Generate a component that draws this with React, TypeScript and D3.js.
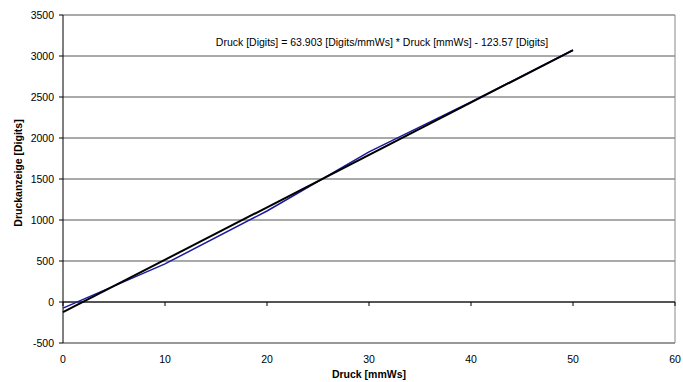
import React from "react";
import * as d3 from "d3";

// Messwerte
const druckMmWs = [0, 10, 20, 30, 40, 50];
const anzeigeDigits = [-75, 465, 1110, 1830, 2440, 3070];

// Ausgleichsgerade
const slope = 63.903;
const intercept = -123.57;
const fitX = [0, 50];

const xTicks = [0, 10, 20, 30, 40, 50, 60];
const yTicks = [-500, 0, 500, 1000, 1500, 2000, 2500, 3000, 3500];

const equationText = "Druck [Digits] = 63.903 [Digits/mmWs] * Druck [mmWs] - 123.57 [Digits]";

const W = 683, H = 382;
const left = 63, right = 675, top = 15, bottom = 343;
const font = "'Liberation Sans', Arial, sans-serif";

export default function App() {
  const x = d3.scaleLinear().domain([0, 60]).range([left, right]);
  const y = d3.scaleLinear().domain([-500, 3500]).range([bottom, top]);

  const line = d3.line<[number, number]>().x(d => x(d[0])).y(d => y(d[1]));
  const measured: [number, number][] = druckMmWs.map((v, i) => [v, anzeigeDigits[i]]);
  const fit: [number, number][] = fitX.map(v => [v, slope * v + intercept]);

  return (
    <svg width={W} height={H} style={{ position: "absolute", left: 0, top: 0 }} fontFamily={font}>
      <rect width={W} height={H} fill="#fff" />
      {/* grid */}
      {yTicks.map(t => (
        <line key={t} x1={left} x2={right} y1={y(t)} y2={y(t)} stroke="#555" strokeWidth={1} />
      ))}
      {/* border right/bottom */}
      <line x1={right} x2={right} y1={top} y2={bottom} stroke="#888" />
      <line x1={left} x2={right} y1={bottom} y2={bottom} stroke="#888" />
      {/* y axis */}
      <line x1={left} x2={left} y1={top} y2={bottom} stroke="#000" />
      {yTicks.map(t => (
        <g key={t}>
          <line x1={left - 4} x2={left} y1={y(t)} y2={y(t)} stroke="#000" />
          <text x={left - 9} y={y(t)} dy="0.35em" textAnchor="end" fontSize={10.5} fill="#000">{t}</text>
        </g>
      ))}
      {/* x axis at zero */}
      <line x1={left} x2={right} y1={y(0)} y2={y(0)} stroke="#000" />
      {xTicks.map(t => (
        <g key={t}>
          <line x1={x(t)} x2={x(t)} y1={y(0)} y2={y(0) + 4} stroke="#000" />
          <text x={x(t)} y={359} dy="0.35em" textAnchor="middle" fontSize={10.5} fill="#000">{t}</text>
        </g>
      ))}
      {/* series */}
      <path d={line(measured) || ""} fill="none" stroke="#1a1aa0" strokeWidth={1.5} />
      <path d={line(fit) || ""} fill="none" stroke="#000" strokeWidth={2} />
      <text x={382} y={42} dy="0.35em" textAnchor="middle" fontSize={10.5} fill="#000">{equationText}</text>
      {/* titles */}
      <text x={369} y={374} dy="0.35em" textAnchor="middle" fontSize={10.5} fontWeight="bold" fill="#000">Druck [mmWs]</text>
      <text transform={`translate(18,173) rotate(-90)`} dy="0.35em" textAnchor="middle" fontSize={10.5} fontWeight="bold" fill="#000">Druckanzeige [Digits]</text>
    </svg>
  );
}
